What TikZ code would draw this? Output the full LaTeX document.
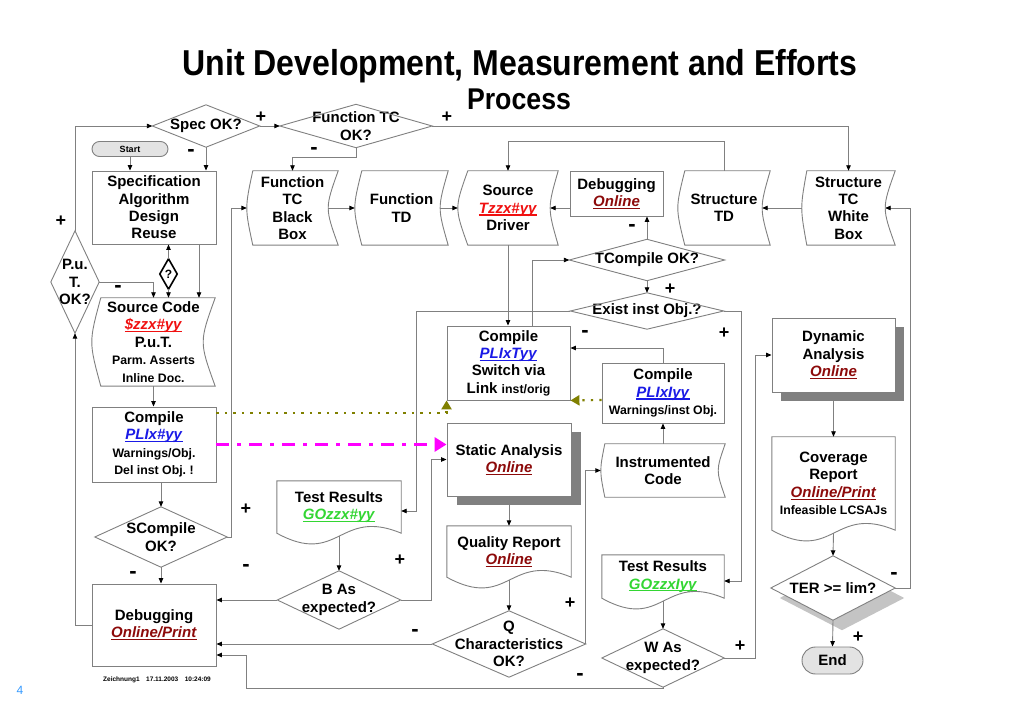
\documentclass[tikz,border=0pt]{standalone}
\usepackage{fontspec}
\setmainfont{Liberation Sans}
\usepackage{graphicx}
\usetikzlibrary{arrows.meta}
\definecolor{lc}{HTML}{808080}
\definecolor{lred}{HTML}{F01010}
\definecolor{dred}{HTML}{8C0A0A}
\definecolor{lblue}{HTML}{1A1AE6}
\definecolor{lgreen}{HTML}{33D633}
\definecolor{olv}{HTML}{808000}
\definecolor{mag}{HTML}{FF00FF}
\definecolor{shd}{HTML}{808080}
\definecolor{shl}{HTML}{C4C4C4}
\definecolor{tfill}{HTML}{E3E3E3}
\definecolor{pblue}{HTML}{3399FF}
\pgfdeclarelayer{bg}
\pgfsetlayers{bg,main}
\frenchspacing
\newcommand\mylk[2]{\textcolor{#1}{\setbox0\hbox{\textit{#2}}\rlap{\raisebox{-2.4pt}{\rule{\wd0}{1.2pt}}}\box0}}
\newcommand\mysm{\fontsize{12.3}{15}\selectfont}
\newcommand\mydia[1]{\draw[shp] (#1.north) -- (#1.east) -- (#1.south) -- (#1.west) -- cycle;}
\newcommand\mystor[4]{\draw[shp] ([xshift=#2pt]#1.north west) -- (#1.north east) .. controls ([xshift=-#4pt]#1.east) .. (#1.south east) -- ([xshift=#2pt]#1.south west) .. controls ([xshift=-#3pt]#1.west) .. ([xshift=#2pt]#1.north west) -- cycle;}
\newcommand\mydoc[1]{\draw[shp] (#1.north west) -- (#1.south west) .. controls ([yshift=-34pt]#1.south) and ([yshift=26pt]#1.south) .. (#1.south east) -- (#1.north east) -- cycle;}
\begin{document}
\begin{tikzpicture}[x=1pt,y=-1pt,
  every node/.style={font=\bfseries\fontsize{15}{17.4}\selectfont, align=center, inner sep=0pt},
  shp/.style={draw=lc, line width=0.9pt},
  bx/.style={draw=lc, line width=0.9pt, fill=white},
  ln/.style={draw=lc, line width=0.9pt},
  conn/.style={ln, -{Triangle[length=5.5pt,width=4.5pt,color=black]}},
  sgnp/.style={font=\bfseries\fontsize{18}{18}\selectfont},
  sgnm/.style={font=\bfseries\fontsize{22}{22}\selectfont},
  term/.style={draw=lc, line width=0.9pt, fill=tfill},
  olvline/.style={draw=olv, line width=2.2pt, dash pattern=on 2.2pt off 6.3pt, -{Triangle[length=9pt,width=10pt,color=olv]}},
  magline/.style={draw=mag, line width=3pt, dash pattern=on 13pt off 8pt on 4pt off 8pt, -{Triangle[length=12pt,width=14pt,color=mag]}},
]
\useasboundingbox (0,0) rectangle (1023,708);

% titles
\node[font=\bfseries\fontsize{36}{40}\selectfont, anchor=base] (title) at (520,76) {\scalebox{0.89}[1]{Unit Development, Measurement and Efforts}};
\node[font=\bfseries\fontsize{30}{34}\selectfont, anchor=base] (proc) at (519,110) {\scalebox{0.89}[1]{Process}};

% left column
\node[minimum width=107pt, minimum height=42pt] (sok) at (206,126) {Spec OK?};
\node[minimum width=152pt, minimum height=43pt] (ftc) at (356,126) {Function TC\\OK?};
\node[term, rounded corners=7.5pt, minimum width=76pt, minimum height=15pt, font=\bfseries\fontsize{9}{10}\selectfont] (start) at (130,149) {Start};
\node[bx, minimum width=124pt, minimum height=73pt] (spec) at (154,207.5) {Specification\\Algorithm\\Design\\Reuse};
\node[minimum width=48pt, minimum height=102pt] (put) at (75,282) {P.u.\\T.\\OK?};
\node[minimum width=17pt, minimum height=30pt, font=\bfseries\fontsize{12}{12}\selectfont] (q) at (168.5,274) {?};
\node[minimum width=123pt, minimum height=88pt] (src) at (153.5,342) {Source Code\\\mylk{lred}{\$zzx\#yy}\\P.u.T.\\{\mysm Parm. Asserts}\\{\mysm Inline Doc.}};
\node[bx, minimum width=124pt, minimum height=75pt] (cmp1) at (154,444.5) {Compile\\\mylk{lblue}{PLIx\#yy}\\{\mysm Warnings/Obj.}\\{\mysm Del inst Obj. !}};
\node[minimum width=132pt, minimum height=60pt] (scmp) at (161,537) {SCompile\\OK?};
\node[bx, minimum width=124pt, minimum height=82pt] (dbg) at (154,625) {Debugging\\\mylk{dred}{Online/Print}};

% top row
\node[minimum width=91pt, minimum height=74pt] (fbb) at (292.5,208) {Function\\TC\\Black\\Box};
\node[minimum width=93pt, minimum height=74pt] (ftd) at (401.5,208) {Function\\TD};
\node[minimum width=100pt, minimum height=74pt] (srcd) at (508,208) {Source\\\mylk{lred}{Tzzx\#yy}\\Driver};
\node[bx, minimum width=93pt, minimum height=45pt] (dbgo) at (616.5,193.5) {Debugging\\\mylk{dred}{Online}};
\node[minimum width=92pt, minimum height=74pt] (std) at (724,208) {Structure\\TD};
\node[minimum width=93pt, minimum height=74pt] (stc) at (848.5,208) {Structure\\TC\\White\\Box};

% middle
\node[minimum width=155pt, minimum height=41pt] (tc) at (647,260) {TCompile OK?};
\node[minimum width=153pt, minimum height=36pt] (ex) at (647,311) {Exist inst Obj.?};
\node[bx, minimum width=123pt, minimum height=74pt] (c2) at (508.5,363) {Compile\\\mylk{lblue}{PLIxTyy}\\Switch via\\Link {\mysm inst/orig}};
\node[bx, minimum width=122pt, minimum height=60pt] (c3) at (663,393) {Compile\\\mylk{lblue}{PLIxIyy}\\{\mysm Warnings/inst Obj.}};
\node[bx, minimum width=124pt, minimum height=73pt] (sa) at (509,459.5) {Static Analysis\\\mylk{dred}{Online}};
\node[minimum width=124pt, minimum height=51pt] (qr) at (509,551.5) {Quality Report\\\mylk{dred}{Online}};
\node[minimum width=153pt, minimum height=66pt] (qc) at (509,644) {Q\\Characteristics\\OK?};
\node[minimum width=124pt, minimum height=53pt] (ic) at (663,470.5) {Instrumented\\Code};
\node[minimum width=124pt, minimum height=52pt] (tr1) at (339,507) {Test Results\\\mylk{lgreen}{GOzzx\#yy}};
\node[minimum width=123pt, minimum height=58pt] (ba) at (339,600) {B As\\expected?};
\node[minimum width=122pt, minimum height=43pt] (tr2) at (663,576.5) {Test Results\\\mylk{lgreen}{GOzzxIyy}};
\node[minimum width=122pt, minimum height=58pt] (wa) at (663,658) {W As\\expected?};

% right column
\node[bx, minimum width=123pt, minimum height=74pt] (da) at (833.5,355) {Dynamic\\Analysis\\\mylk{dred}{Online}};
\node[minimum width=123pt, minimum height=93pt] (cov) at (833.5,483.5) {Coverage\\Report\\\mylk{dred}{Online/Print}\\{\mysm Infeasible LCSAJs}};
\node[minimum width=124pt, minimum height=64pt] (ter) at (833,588) {TER >= lim?};
\node[term, rounded corners=13.5pt, minimum width=61pt, minimum height=27pt] (end) at (832.5,660.5) {End};

% footer
\node[font=\bfseries\fontsize{6.5}{7}\selectfont] (foot) at (157,680) {Zeichnung1\quad 17.11.2003\quad 10:24:09};
\node[font=\fontsize{12}{12}\selectfont, text=pblue] (pg) at (20,690) {4};

% shadows & background
\begin{pgfonlayer}{bg}
\fill[white] (0,0) rectangle (1023,708);
\fill[shd] ([shift={(10pt,-9pt)}]sa.north west) rectangle ([shift={(10pt,-9pt)}]sa.south east);
\fill[shd] ([shift={(9pt,-9pt)}]da.north west) rectangle ([shift={(9pt,-9pt)}]da.south east);
\fill[shl] ([shift={(9pt,-10pt)}]ter.north) -- ([shift={(9pt,-10pt)}]ter.east) -- ([shift={(9pt,-10pt)}]ter.south) -- ([shift={(9pt,-10pt)}]ter.west) -- cycle;
\fill[white] (ter.north) -- (ter.east) -- (ter.south) -- (ter.west) -- cycle;
\end{pgfonlayer}

% shape outlines
\mydia{sok}
\mydia{ftc}
\mydia{put}
\draw[black, line width=1.6pt] (q.north) -- (q.east) -- (q.south) -- (q.west) -- cycle;
\mydia{scmp}
\mydia{tc}
\mydia{ex}
\mydia{qc}
\mydia{ba}
\mydia{wa}
\mydia{ter}
\mystor{src}{9}{3}{16}
\mystor{fbb}{6}{2}{13.3}
\mystor{ftd}{7}{2.3}{10.7}
\mystor{srcd}{10}{3.3}{10.7}
\mystor{std}{7}{2.3}{10.7}
\mystor{stc}{5}{1.7}{13.3}
\mystor{ic}{4}{1.3}{9.3}
\mydoc{qr}
\mydoc{tr1}
\mydoc{tr2}
\mydoc{cov}

% connectors
\draw[conn] (sok.east) -- (ftc.west);
\draw[conn] (ftc.east) -| (stc.north);
\draw[conn] (sok.south) -- (sok.south |- spec.north);
\draw[conn] (ftc.south) -- ([yshift=-10pt]ftc.south) -| (fbb.north);
\draw[conn] (start.south) -- (start.south |- spec.north);
\draw[conn] (put.north) |- (sok.west);
\draw[conn] (put.east) -| (src.north);
\draw[conn] (q.north) -- (q.north |- spec.south);
\draw[conn] (q.south) -- (q.south |- src.north);
\draw[conn] ([xshift=45pt]spec.south) -- ([xshift=45pt]spec.south |- src.north);
\draw[conn] (src.south) -- (src.south |- cmp1.north);
\draw[conn] (scmp.north |- cmp1.south) -- (scmp.north);
\draw[conn] (scmp.east) -- ([xshift=4pt]scmp.east) |- (fbb.west);
\draw[conn] (scmp.south) -- (scmp.south |- dbg.north);
\draw[conn] (dbg.west) -| (put.south);
\draw[conn] (ba.west) -- (ba.west -| dbg.east);
\draw[conn] (qc.west) -- (qc.west -| dbg.east);
\draw[conn] (wa.south) |- ([xshift=30pt,yshift=-63pt]dbg.east) |- ([yshift=-30pt]dbg.east);
\draw[conn] ([xshift=-10pt]fbb.east) -- (ftd.west);
\draw[conn] ([xshift=-8pt]ftd.east) -- (srcd.west);
\draw[conn] (dbgo.west |- srcd.east) -- ([xshift=-8pt]srcd.east);
\draw[conn] (std.north) -- ([yshift=29pt]std.north) -| (srcd.north);
\draw[conn] (stc.west) -- ([xshift=-8pt]std.east);
\draw[conn] (ter.east) -- ([xshift=15pt]ter.east) |- ([xshift=-10pt]stc.east);
\draw[conn] (tc.north) -- (tc.north |- dbgo.south);
\draw[conn] (tc.south) -- (ex.north);
\draw[conn] ([xshift=23.5pt]c2.north) |- (tc.west);
\draw[conn] (srcd.south) -- (srcd.south |- c2.north);
\draw[conn] (ex.west) -| ([xshift=15pt,yshift=-4pt]tr1.east) -- ([yshift=-4pt]tr1.east);
\draw[conn] (ex.east) -| ([xshift=17pt,yshift=-4.5pt]tr2.east) -- ([yshift=-4.5pt]tr2.east);
\draw[conn] (c3.north) |- ([yshift=15pt]c2.east);
\draw[conn] (ba.east) -- ([xshift=31pt]ba.east) |- (sa.west);
\draw[conn] (sa.south) -- (qr.north);
\draw[conn] ([yshift=-3pt]qr.south) -- (qc.north);
\draw[conn] (qc.east) |- (ic.west);
\draw[conn] (ic.north) -- (c3.south);
\draw[conn] ([yshift=-3pt]tr1.south) -- (ba.north);
\draw[conn] ([yshift=-3pt]tr2.south) -- (wa.north);
\draw[conn] (wa.east) -- ([xshift=31pt]wa.east) |- (da.west);
\draw[conn] (da.south) -- (cov.north);
\draw[conn] ([yshift=-3pt]cov.south) -- (ter.north);
\draw[conn] (ter.south) -- (end.north);
\draw[olvline] ([yshift=31.5pt]cmp1.east) -| (c2.south west);
\draw[olvline] ([yshift=-7pt]c3.west) -- (c2.south east);
\draw[magline] (cmp1.east) -- (cmp1.east -| sa.west);

% signs
\node[sgnp] (s1) at (261,117) {+};
\node[sgnp] (s2) at (447,117) {+};
\node[sgnm] (s3) at (191,153) {-};
\node[sgnm] (s4) at (314,151) {-};
\node[sgnp] (s5) at (61,221) {+};
\node[sgnm] (s6) at (118,289) {-};
\node[sgnp] (s7) at (246,509) {+};
\node[sgnm] (s8) at (133,575) {-};
\node[sgnm] (s9) at (246,568) {-};
\node[sgnp] (s10) at (400,560) {+};
\node[sgnm] (s11) at (415,633) {-};
\node[sgnm] (s12) at (580,677) {-};
\node[sgnm] (s13) at (632,228) {-};
\node[sgnp] (s14) at (670,289) {+};
\node[sgnm] (s15) at (585,334) {-};
\node[sgnp] (s16) at (724,333) {+};
\node[sgnp] (s17) at (570,603) {+};
\node[sgnp] (s18) at (740,646) {+};
\node[sgnm] (s19) at (894,576) {-};
\node[sgnp] (s20) at (858,637) {+};
\end{tikzpicture}
\end{document}
